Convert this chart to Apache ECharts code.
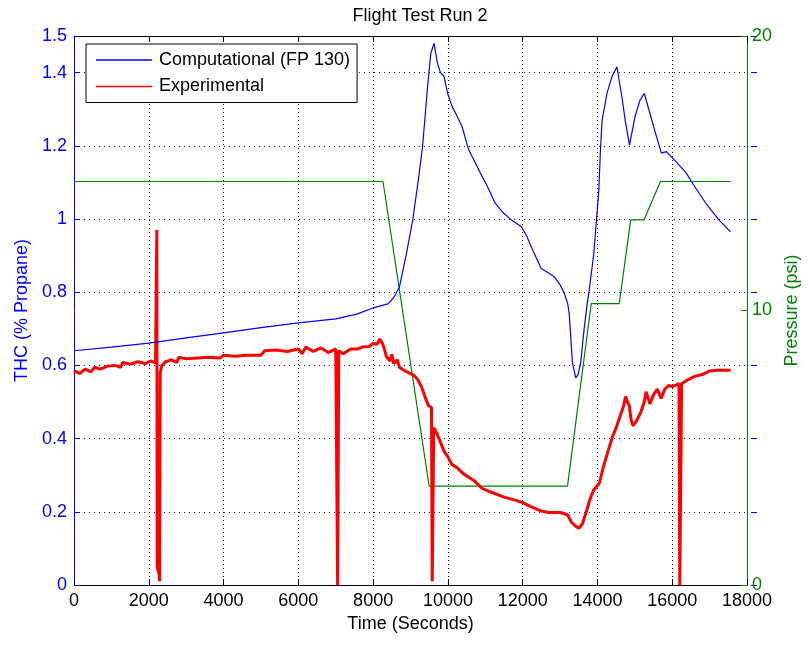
<!DOCTYPE html>
<html>
<head>
<meta charset="utf-8">
<script src="https://cdn.jsdelivr.net/npm/echarts@6/dist/echarts.min.js"></script>
<style>html,body{margin:0;padding:0;background:#fff}#c{width:809px;height:646px}</style>
</head>
<body>
<div id="c"></div>
<script>
// ---- data ----
const titleText = 'Flight Test Run 2';
const xName = 'Time (Seconds)';
const yLeftName = 'THC (% Propane)';
const yRightName = 'Pressure (psi)';
const seriesNames = ['Computational (FP 130)', 'Experimental', 'Pressure'];

const compT = [0,1000,2000,3000,4000,5000,6000,7000,7560,8000,8397,8550,8705,8880,9058,9200,9322,9454,9542,9630,9718,9800,9894,10000,10114,10250,10379,10555,10700,10864,11050,11260,11450,11701,11965,12100,12229,12493,12650,12846,13000,13110,13200,13242,13330,13419,13480,13551,13639,13727,13771,13903,14035,14079,14123,14255,14387,14519,14652,14740,14855,15004,15137,15251,15401,15577,15709,15841,16062,16370,16546,16898,17251,17559];
const compV = [0.64,0.65,0.661,0.675,0.689,0.703,0.716,0.727,0.74,0.757,0.768,0.785,0.815,0.9,0.997,1.1,1.198,1.36,1.453,1.48,1.426,1.40,1.39,1.34,1.307,1.28,1.252,1.189,1.16,1.126,1.09,1.044,1.02,0.997,0.979,0.955,0.924,0.865,0.855,0.842,0.82,0.797,0.77,0.743,0.607,0.566,0.575,0.607,0.697,0.77,0.80,0.907,1.079,1.189,1.27,1.344,1.389,1.416,1.334,1.27,1.202,1.28,1.325,1.343,1.289,1.225,1.18,1.184,1.161,1.126,1.097,1.043,0.997,0.965];

const expT = [0,150,300,450,550,700,900,1100,1250,1300,1500,1700,1900,2050,2180,2215,2225,2260,2275,2290,2305,2350,2450,2600,2750,2800,3000,3300,3600,3900,4000,4300,4600,5000,5100,5400,5700,6000,6100,6200,6400,6600,6800,7000,7040,7050,7070,7080,7200,7400,7600,7700,7900,8000,8100,8180,8250,8300,8350,8450,8500,8550,8650,8700,8850,8950,9100,9200,9300,9400,9480,9560,9580,9600,9620,9700,9800,9900,10000,10100,10250,10400,10550,10700,10900,11000,11200,11500,11800,12000,12200,12500,12700,13000,13200,13300,13400,13500,13600,13700,13800,13900,14050,14150,14250,14400,14500,14600,14700,14750,14800,14850,14900,14950,15050,15150,15250,15300,15400,15500,15600,15700,15800,15900,16000,16180,16200,16230,16250,16400,16600,16800,17000,17200,17559];
const expV = [0.585,0.578,0.59,0.582,0.595,0.59,0.598,0.60,0.595,0.608,0.603,0.61,0.605,0.612,0.607,0.97,0.05,0.05,0.03,0.01,0.58,0.60,0.61,0.615,0.608,0.622,0.618,0.62,0.622,0.62,0.628,0.625,0.628,0.628,0.64,0.642,0.638,0.645,0.632,0.65,0.638,0.648,0.635,0.645,0.645,0.0,0.0,0.64,0.632,0.645,0.645,0.65,0.652,0.66,0.658,0.672,0.66,0.645,0.625,0.612,0.63,0.605,0.615,0.595,0.585,0.58,0.572,0.56,0.54,0.51,0.49,0.485,0.01,0.01,0.43,0.415,0.39,0.365,0.35,0.33,0.32,0.305,0.295,0.285,0.265,0.26,0.252,0.24,0.232,0.225,0.215,0.202,0.198,0.198,0.192,0.172,0.162,0.155,0.168,0.2,0.235,0.26,0.278,0.32,0.355,0.405,0.43,0.46,0.49,0.515,0.5,0.49,0.45,0.435,0.45,0.47,0.5,0.528,0.495,0.52,0.535,0.51,0.535,0.545,0.542,0.55,0.0,0.0,0.55,0.56,0.57,0.575,0.585,0.587,0.587];

const presT = [0,8264,9498,13198,13832,14581,14888,15242,15683,17559];
const presV = [14.7,14.7,3.6,3.6,10.25,10.25,13.3,13.3,14.7,14.7];

const xTicks = {min:0, max:18000, interval:2000};
const yLeftTicks = {min:0, max:1.5, interval:0.2};
const yRightTicks = {min:0, max:20, interval:10};

// ---- chart ----
const zip = (a,b) => a.map((t,i)=>[t,b[i]]);
const FONT = 'Liberation Sans, Arial, sans-serif';
const FS = 18;
const gridRect = {left:74, right:52, top:36, bottom:61, containLabel:false};
const chart = echarts.init(document.getElementById('c'), null, {renderer:'canvas'});
chart.setOption({
  animation:false,
  backgroundColor:'#fff',
  title:{text:titleText, left:415, top:2, textAlign:'center',
    textStyle:{fontFamily:FONT, fontSize:FS, fontWeight:'normal', color:'#000'}},
  legend:{
    data:[{name:seriesNames[0], icon:'rect'},{name:seriesNames[1], icon:'rect'}],
    orient:'vertical', left:86, top:44, itemWidth:56, itemHeight:1.5, itemGap:8.5,
    padding:[7,7,7,10], backgroundColor:'#fff', borderColor:'#000', borderWidth:1, borderRadius:0,
    textStyle:{fontFamily:FONT, fontSize:FS, color:'#000', padding:[0,0,0,2]}, z:10
  },
  grid:[Object.assign({}, gridRect), Object.assign({}, gridRect)],
  xAxis:[
    {type:'value', gridIndex:0, position:'bottom', min:xTicks.min, max:xTicks.max, interval:xTicks.interval,
     name:xName, nameLocation:'middle', nameGap:27,
     nameTextStyle:{fontFamily:FONT, fontSize:FS, color:'#000'},
     axisLine:{show:true, onZero:false, lineStyle:{color:'#000', width:1}},
     axisTick:{show:true, inside:true, length:6, lineStyle:{color:'#000'}},
     axisLabel:{fontFamily:FONT, fontSize:FS, color:'#000', margin:7, formatter:v=>String(v)},
     splitLine:{show:true, lineStyle:{color:'#000', type:[1,3], width:1}}},
    {type:'value', gridIndex:0, position:'top', min:xTicks.min, max:xTicks.max, interval:xTicks.interval,
     axisLine:{show:true, onZero:false, lineStyle:{color:'#000', width:1}},
     axisTick:{show:true, inside:true, length:6, lineStyle:{color:'#000'}},
     axisLabel:{show:false}, splitLine:{show:false}},
    {type:'value', gridIndex:1, position:'bottom', min:xTicks.min, max:xTicks.max, interval:xTicks.interval,
     show:false}
  ],
  yAxis:[
    {type:'value', gridIndex:0, position:'left', min:yLeftTicks.min, max:yLeftTicks.max, interval:yLeftTicks.interval,
     name:yLeftName, nameLocation:'middle', nameGap:41, nameRotate:90,
     nameTextStyle:{fontFamily:FONT, fontSize:FS, color:'#0000ff'},
     axisLine:{show:true, onZero:false, lineStyle:{color:'#0000ff', width:1}},
     axisTick:{show:true, inside:true, length:6, lineStyle:{color:'#0000ff'}},
     axisLabel:{fontFamily:FONT, fontSize:FS, color:'#0000ff', margin:7,
       formatter:v=>String(+v.toFixed(2))},
     splitLine:{show:true, lineStyle:{color:'#0000ff', type:[1,4], width:1}}},
    {type:'value', gridIndex:0, position:'right', min:yRightTicks.min, max:yRightTicks.max, interval:yRightTicks.interval,
     name:yRightName, nameLocation:'middle', nameGap:28, nameRotate:90,
     nameTextStyle:{fontFamily:FONT, fontSize:FS, color:'#008000'},
     axisLine:{show:true, onZero:false, lineStyle:{color:'#008000', width:1}},
     axisTick:{show:true, inside:true, length:6, lineStyle:{color:'#008000'}},
     axisLabel:{fontFamily:FONT, fontSize:FS, color:'#008000', margin:5},
     splitLine:{show:false}},
    {type:'value', gridIndex:1, position:'right', min:yLeftTicks.min, max:yLeftTicks.max, interval:yLeftTicks.interval,
     axisLine:{show:false, onZero:false}, axisLabel:{show:false}, splitLine:{show:false},
     axisTick:{show:true, inside:true, length:6, lineStyle:{color:'#0000ff'}}}
  ],
  series:[
    {name:seriesNames[2], type:'line', xAxisIndex:0, yAxisIndex:1, data:zip(presT,presV),
     showSymbol:false, symbol:'none', lineStyle:{color:'#008000', width:1.2}, itemStyle:{color:'#008000'}, z:2},
    {name:seriesNames[1], type:'line', xAxisIndex:0, yAxisIndex:0, data:zip(expT,expV),
     showSymbol:false, symbol:'none', lineStyle:{color:'#ff0000', width:3}, itemStyle:{color:'#ff0000'}, z:3},
    {name:seriesNames[0], type:'line', xAxisIndex:0, yAxisIndex:0, data:zip(compT,compV),
     showSymbol:false, symbol:'none', lineStyle:{color:'#0000ff', width:1.2}, itemStyle:{color:'#0000ff'}, z:4}
  ]
});
</script>
</body>
</html>
